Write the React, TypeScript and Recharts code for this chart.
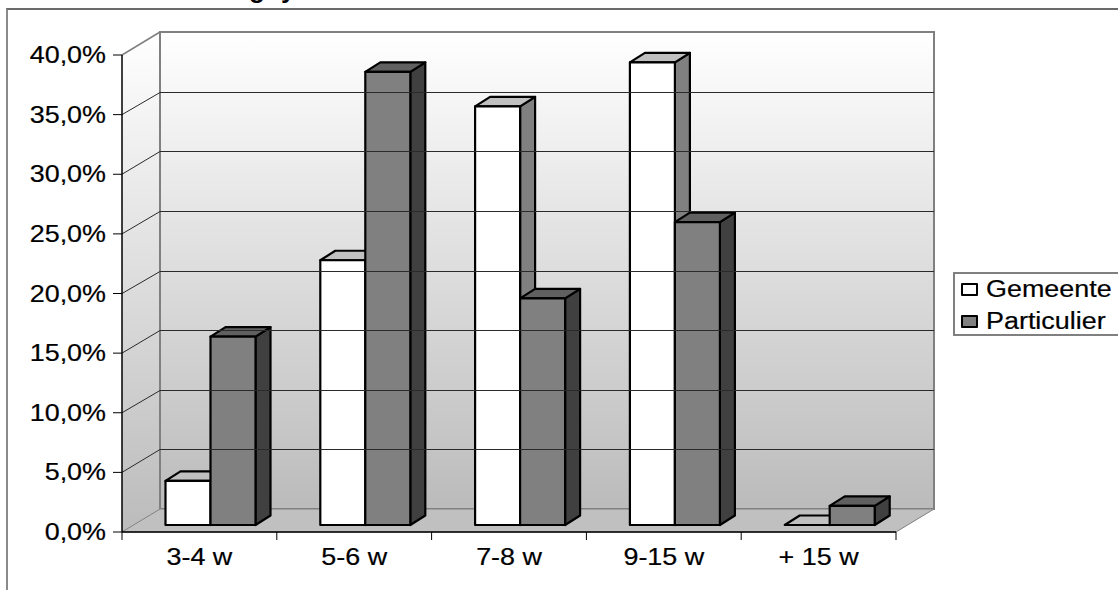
import {
  BarChart,
  Bar,
  XAxis,
  YAxis,
  Legend,
  ReferenceLine,
  usePlotArea,
} from 'recharts';

const categories = ['3-4 w', '5-6 w', '7-8 w', '9-15 w', '+ 15 w'];
const gemeente = [3.7, 22.2, 35.1, 38.8, 0];
const particulier = [15.8, 38.0, 19.0, 25.4, 1.6];
const yTicks = [0, 5, 10, 15, 20, 25, 30, 35, 40];

const data = categories.map((name, i) => ({
  name,
  gemeente: gemeente[i],
  particulier: particulier[i],
}));

const FONT = '"Liberation Sans", Arial, sans-serif';
// the source picture is stretched sideways a bit
const STRETCH = 1.17;
// depth of the floor and of a bar
const WALL_DX = 38;
const WALL_DY = 23;
const BAR_DX = 15;
const BAR_DY = 9.5;
// bars stand a little way into the floor
const BAR_OFFSET_X = 11;
const BAR_OFFSET_Y = 7;
const PLOT_WIDTH = 774;

const faces: Record<string, { top: string; side: string }> = {
  '#ffffff': { top: '#c0c0c0', side: '#808080' },
  '#808080': { top: '#606060', side: '#404040' },
};

function Walls() {
  const plot = usePlotArea();
  if (!plot) return null;
  const left = plot.x;
  const right = plot.x + plot.width;
  const top = plot.y;
  const bottom = plot.y + plot.height;
  const pts = (list: number[][]) => list.map((p) => p.join(',')).join(' ');
  return (
    <g>
      <defs>
        <linearGradient id="wall" x1="0" y1="0" x2="0" y2="1">
          <stop offset="0%" stopColor="#ffffff" />
          <stop offset="100%" stopColor="#bbbbbb" />
        </linearGradient>
      </defs>
      <polygon
        points={pts([
          [left, top],
          [left + WALL_DX, top - WALL_DY],
          [left + WALL_DX, bottom - WALL_DY],
          [left, bottom],
        ])}
        fill="url(#wall)"
      />
      <rect
        x={left + WALL_DX}
        y={top - WALL_DY}
        width={plot.width}
        height={plot.height}
        fill="url(#wall)"
        stroke="#808080"
        strokeWidth={2}
      />
      <polygon
        points={pts([
          [left, bottom],
          [left + WALL_DX, bottom - WALL_DY],
          [right + WALL_DX, bottom - WALL_DY],
          [right, bottom],
        ])}
        fill="#c0c0c0"
        stroke="#808080"
        strokeWidth={1}
      />
      <line
        x1={left}
        y1={top}
        x2={left + WALL_DX}
        y2={top - WALL_DY}
        stroke="#808080"
        strokeWidth={1.5}
      />
      <text
        x={249}
        y={-2}
        fontFamily={FONT}
        fontSize={26}
        fontWeight="bold"
        wordSpacing={9}
      >
        g y
      </text>
    </g>
  );
}

function WallGridLine(props: any) {
  const { x1, x2, y1 } = props;
  const y = Math.round(y1) + 0.5;
  const d = `M${x1},${y1} L${x1 + WALL_DX},${y - WALL_DY} L${x2 + WALL_DX},${y - WALL_DY}`;
  return <path d={d} fill="none" stroke="#2a2a2a" strokeWidth={1} />;
}

function Bar3D(props: any) {
  const { x, y, width, height, fill } = props;
  const left = x + BAR_OFFSET_X;
  const top = y - BAR_OFFSET_Y;
  const right = left + width;
  const bottom = top + height;
  const face = faces[fill];
  return (
    <g stroke="#000000" strokeWidth={2.2} strokeLinejoin="round">
      <polygon
        points={`${right},${top} ${right + BAR_DX},${top - BAR_DY} ${right + BAR_DX},${bottom - BAR_DY} ${right},${bottom}`}
        fill={face.side}
      />
      <polygon
        points={`${left},${top} ${left + BAR_DX},${top - BAR_DY} ${right + BAR_DX},${top - BAR_DY} ${right},${top}`}
        fill={face.top}
      />
      <rect x={left} y={top} width={width} height={height} fill={fill} />
    </g>
  );
}

function YTick({ x, y, payload }: any) {
  return (
    <text
      transform={`translate(${x - 5},${y + 8}) scale(${STRETCH},1)`}
      textAnchor="end"
      fontFamily={FONT}
      fontSize={23}
      fill="#000000"
      stroke="#000000"
      strokeWidth={0.2}
    >
      {payload.value.toFixed(1).replace('.', ',')}%
    </text>
  );
}

function XTick({ x, y, payload, index }: any) {
  const band = PLOT_WIDTH / categories.length;
  const edge = x - band / 2;
  return (
    <g>
      <line x1={edge} y1={y - 8} x2={edge} y2={y} stroke="#000000" />
      {index === categories.length - 1 && (
        <line x1={edge + band} y1={y - 8} x2={edge + band} y2={y} stroke="#000000" />
      )}
      <text
        transform={`translate(${x},${y + 25}) scale(${STRETCH},1)`}
        textAnchor="middle"
        fontFamily={FONT}
        fontSize={23}
        fill="#000000"
        stroke="#000000"
        strokeWidth={0.2}
      >
        {payload.value}
      </text>
    </g>
  );
}

function LegendBox({ payload }: any) {
  return (
    <div
      style={{
        boxSizing: 'border-box',
        width: 166,
        height: 64,
        border: '2px solid #808080',
        borderRight: 'none',
        position: 'relative',
        fontFamily: FONT,
        fontSize: 23,
        color: '#000000',
        WebkitTextStroke: '0.2px #000000',
      }}
    >
      {(payload || []).map((entry: any, i: number) => (
        <div key={entry.value}>
          <span
            style={{
              position: 'absolute',
              left: 6,
              top: 9 + i * 32,
              width: 13,
              height: 9,
              background: entry.color,
              border: '2px solid #000000',
              borderRadius: 1,
            }}
          />
          <span
            style={{
              position: 'absolute',
              left: 31,
              top: 1 + i * 32,
              lineHeight: '28px',
              transform: `scaleX(${STRETCH})`,
              transformOrigin: 'left center',
              whiteSpace: 'nowrap',
            }}
          >
            {entry.value}
          </span>
        </div>
      ))}
    </div>
  );
}

export default function App() {
  return (
    <div style={{ position: 'absolute', left: 0, top: 0, width: 1118, height: 590, overflow: 'hidden', background: '#fff' }}>
      <div
        style={{
          position: 'absolute',
          left: 6,
          top: 8,
          width: 1118,
          height: 590,
          borderTop: '2px solid #6a6a6a',
          borderLeft: '2px solid #8a8a8a',
        }}
      />
      <BarChart
        width={1118}
        height={590}
        data={data}
        margin={{ top: 55, right: 222, bottom: 0, left: 0 }}
        barCategoryGap={32.5}
        barGap={0}
        style={{ position: 'absolute', left: 0, top: 0 }}
      >
        <Walls />
        {yTicks.slice(1, -1).map((v) => (
          <ReferenceLine key={v} y={v} shape={WallGridLine} />
        ))}
        <XAxis
          dataKey="name"
          height={58}
          axisLine={{ stroke: '#000000', strokeWidth: 1.5 }}
          tickLine={false}
          tickMargin={0}
          tickSize={8}
          tick={XTick}
          interval={0}
        />
        <YAxis
          width={122}
          domain={[0, 40]}
          ticks={yTicks}
          axisLine={{ stroke: '#000000', strokeWidth: 1.5 }}
          tickLine={{ stroke: '#000000' }}
          tickSize={9}
          tickMargin={2}
          tick={YTick}
          interval={0}
        />
        <Bar dataKey="gemeente" name="Gemeente" fill="#ffffff" shape={Bar3D} isAnimationActive={false} />
        <Bar dataKey="particulier" name="Particulier" fill="#808080" shape={Bar3D} isAnimationActive={false} />
        <Legend
          layout="vertical"
          align="center"
          verticalAlign="middle"
          content={LegendBox}
          wrapperStyle={{ left: 953, top: 272, width: 166, height: 64 }}
        />
      </BarChart>
    </div>
  );
}
